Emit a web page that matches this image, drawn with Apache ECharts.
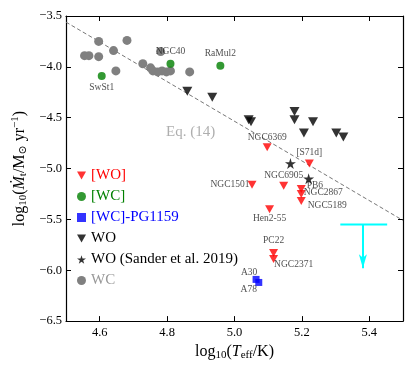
<!DOCTYPE html>
<html>
<head>
<meta charset="utf-8">
<script src="https://cdn.jsdelivr.net/npm/echarts@6/dist/echarts.min.js"></script>
<style>
html,body{margin:0;padding:0;background:#fff;}
#chart{width:416px;height:366px;}
</style>
</head>
<body>
<div id="chart"></div>
<script>
// tick labels
var xTicks = [4.6, 4.8, 5.0, 5.2, 5.4];

// [WO] central stars (red)
var woNames = ['NGC6369','[S71d]','NGC1501','NGC6905','PB6','NGC2867','NGC5189','Hen2-55','PC22','NGC2371'];
var woTeff  = [5.097, 5.222, 5.052, 5.146, 5.198, 5.198, 5.198, 5.104, 5.116, 5.116];
var woMdot  = [-4.79, -4.95, -5.16, -5.17, -5.20, -5.25, -5.32, -5.40, -5.83, -5.89];

// [WC] (green)
var wcNames = ['SwSt1','NGC40','RaMul2'];
var wcTeff  = [4.606, 4.810, 4.958];
var wcMdot  = [-4.09, -3.97, -3.99];

// [WC]-PG1159 (blue)
var pgNames = ['A30','A78'];
var pgTeff  = [5.064, 5.072];
var pgMdot  = [-6.09, -6.12];

// massive WO (black triangles)
var woMassTeff = [4.860, 4.934, 5.042, 5.049, 5.178, 5.178, 5.233, 5.206, 5.302, 5.323];
var woMassMdot = [-4.24, -4.30, -4.52, -4.54, -4.44, -4.52, -4.54, -4.65, -4.65, -4.69];

// WO Sander et al. 2019 (stars)
var sanderTeff = [5.166, 5.220];
var sanderMdot = [-4.95, -5.10];

// massive WC (gray)
var wcMassTeff = [4.555, 4.568, 4.597, 4.597, 4.641, 4.681, 4.648, 4.728, 4.751, 4.781, 4.758, 4.772, 4.785, 4.798, 4.810, 4.867];
var wcMassMdot = [-3.89, -3.89, -3.75, -3.90, -3.84, -3.74, -4.04, -3.97, -4.01, -3.85, -4.04, -4.05, -4.04, -4.05, -4.04, -4.05];

// Eq. (14) relation end points
var eqTeff = [4.5, 5.5];
var eqMdot = [-3.56, -5.51];

// upper limit (cyan)
var limTeff = [5.314, 5.453];
var limMid = 5.381;
var limMdot = -5.55;
var limTip = -5.98;

var SERIF = "'Liberation Serif', 'DejaVu Serif', serif";

// where each name label goes
var labelPos = {
	'SwSt1':   {position:'bottom', distance:2},
	'NGC40':   {position:'top', distance:3},
	'RaMul2':  {position:'top', distance:3},
	'NGC6369': {position:'top', distance:1},
	'[S71d]':  {position:'top', distance:2},
	'NGC1501': {position:'left', distance:0, offset:[2,0]},
	'NGC6905': {position:'top', distance:1},
	'PB6':     {position:'right', distance:1, offset:[0,-3]},
	'NGC2867': {position:'right', distance:0, offset:[-2,-1]},
	'NGC5189': {position:'right', distance:2, offset:[0,4]},
	'Hen2-55': {position:'bottom', distance:0},
	'PC22':    {position:'top', distance:3},
	'NGC2371': {position:'right', distance:0, offset:[-4,5]},
	'A30':     {position:'top', distance:0, offset:[-7,2]},
	'A78':     {position:'bottom', distance:0, offset:[-10,-1]}
};

function pairs(xs, ys){
	var out = [];
	for (var i = 0; i < xs.length; i++) out.push([xs[i], ys[i]]);
	return out;
}

function named(names, xs, ys){
	var out = [];
	for (var i = 0; i < names.length; i++){
		var lp = labelPos[names[i]] || {position:'top'};
		out.push({name:names[i], value:[xs[i], ys[i]], label:lp});
	}
	return out;
}

function fmt(v){
	return v.toFixed(1).replace('-', '\u2212');
}

var starPath = 'path://M50,0 L61,35 L98,35 L68,57 L79,91 L50,70 L21,91 L32,57 L2,35 L39,35 Z';
var downTri = 'path://M0,0 L20,0 L10,18 Z';

var nameLabel = {
	show:true,
	formatter:'{b}',
	fontFamily:SERIF,
	fontSize:9.5,
	color:'#222'
};

var richName = {
	n:{fontFamily:SERIF, fontSize:16, color:'#000'},
	i:{fontFamily:SERIF, fontSize:16, fontStyle:'italic', color:'#000'},
	s:{fontFamily:SERIF, fontSize:11, color:'#000', padding:[7,0,0,0]},
	p:{fontFamily:SERIF, fontSize:11, color:'#000', padding:[0,0,8,0]}
};

var axisLineStyle = {lineStyle:{color:'#000', width:1.2}};

var myChart = echarts.init(document.getElementById('chart'), null, {renderer:'canvas'});

myChart.setOption({
	animation:false,
	backgroundColor:'#fff',
	grid:{left:66, right:13, top:16, bottom:43},
	legend:{
		orient:'vertical',
		left:72,
		top:163,
		itemWidth:9,
		itemHeight:9,
		itemGap:6,
		textStyle:{fontFamily:SERIF, fontSize:15},
		data:[
			{name:'[WO]', icon:downTri, textStyle:{color:'#ff0000'}},
			{name:'[WC]', textStyle:{color:'#008000'}},
			{name:'[WC]-PG1159', textStyle:{color:'#0000ff'}},
			{name:'WO', icon:downTri, textStyle:{color:'#000'}},
			{name:'WO (Sander et al. 2019)', textStyle:{color:'#000'}},
			{name:'WC', textStyle:{color:'#999'}}
		]
	},
	xAxis:[
		{
			type:'value', min:4.5, max:5.5, position:'bottom',
			name:'{n|log}{s|10}{n|(}{i|T}{s|eff}{n|/K)}',
			nameLocation:'middle', nameGap:18,
			nameTextStyle:{rich:richName},
			axisLine:axisLineStyle,
			axisTick:{inside:true, length:5, customValues:xTicks, lineStyle:{color:'#000'}},
			axisLabel:{customValues:xTicks, formatter:fmt, fontFamily:SERIF, fontSize:12.5, color:'#000', margin:5},
			splitLine:{show:false}
		},
		{
			type:'value', min:4.5, max:5.5, position:'top',
			axisLine:axisLineStyle,
			axisTick:{inside:true, length:5, customValues:xTicks, lineStyle:{color:'#000'}},
			axisLabel:{show:false},
			splitLine:{show:false}
		}
	],
	yAxis:[
		{
			type:'value', min:-6.5, max:-3.5, interval:0.5, position:'left',
			name:'{n|log}{s|10}{n|(}{i|\u1E40}{s|t}{n|/M}{s|\u2299}{n| yr}{p|\u22121}{n|)}',
			nameLocation:'middle', nameGap:36,
			nameTextStyle:{rich:richName},
			axisLine:axisLineStyle,
			axisTick:{inside:true, length:5, lineStyle:{color:'#000'}},
			axisLabel:{formatter:fmt, fontFamily:SERIF, fontSize:12.5, color:'#000', margin:4},
			splitLine:{show:false}
		},
		{
			type:'value', min:-6.5, max:-3.5, interval:0.5, position:'right',
			axisLine:axisLineStyle,
			axisTick:{inside:true, length:5, lineStyle:{color:'#000'}},
			axisLabel:{show:false},
			splitLine:{show:false}
		}
	],
	series:[
		{
			name:'Eq14', type:'line', silent:true,
			data:pairs(eqTeff, eqMdot), showSymbol:false, symbol:'none',
			lineStyle:{color:'#777', width:1, type:[4,2.5]}, z:1
		},
		{
			name:'Eq14label', type:'scatter', silent:true,
			data:[[4.87, -4.643]], symbolSize:0,
			label:{show:true, position:'inside', formatter:'Eq. (14)', fontFamily:SERIF, fontSize:15, color:'#9a9a9a'}
		},
		{
			name:'WC', type:'scatter',
			data:pairs(wcMassTeff, wcMassMdot),
			symbol:'circle', symbolSize:9,
			itemStyle:{color:'#808080', opacity:1}, z:2
		},
		{
			name:'[WC]', type:'scatter',
			data:named(wcNames, wcTeff, wcMdot),
			symbol:'circle', symbolSize:8,
			itemStyle:{color:'#008000'},
			label:nameLabel, z:3
		},
		{
			name:'WO', type:'scatter',
			data:pairs(woMassTeff, woMassMdot),
			symbol:downTri, symbolSize:[10,9],
			itemStyle:{color:'#000'}, z:3
		},
		{
			name:'WO (Sander et al. 2019)', type:'scatter',
			data:pairs(sanderTeff, sanderMdot),
			symbol:starPath, symbolSize:11,
			itemStyle:{color:'#000'}, z:3
		},
		{
			name:'[WO]', type:'scatter',
			data:named(woNames, woTeff, woMdot),
			symbol:downTri, symbolSize:[9,8],
			itemStyle:{color:'#ff0000'},
			label:nameLabel, z:3
		},
		{
			name:'[WC]-PG1159', type:'scatter',
			data:named(pgNames, pgTeff, pgMdot),
			symbol:'rect', symbolSize:7,
			itemStyle:{color:'#0000ff'},
			label:nameLabel, z:3
		},
		{
			name:'limit', type:'line', silent:true,
			data:[[limTeff[0], limMdot], [limTeff[1], limMdot]],
			symbol:'none', lineStyle:{color:'#00ffff', width:2},
			markLine:{
				silent:true,
				symbol:['none','arrow'],
				symbolSize:[6,14],
				label:{show:false},
				lineStyle:{color:'#00ffff', width:2, type:'solid'},
				data:[[{coord:[limMid, limMdot]}, {coord:[limMid, limTip]}]]
			}
		}
	]
});
</script>
</body>
</html>
